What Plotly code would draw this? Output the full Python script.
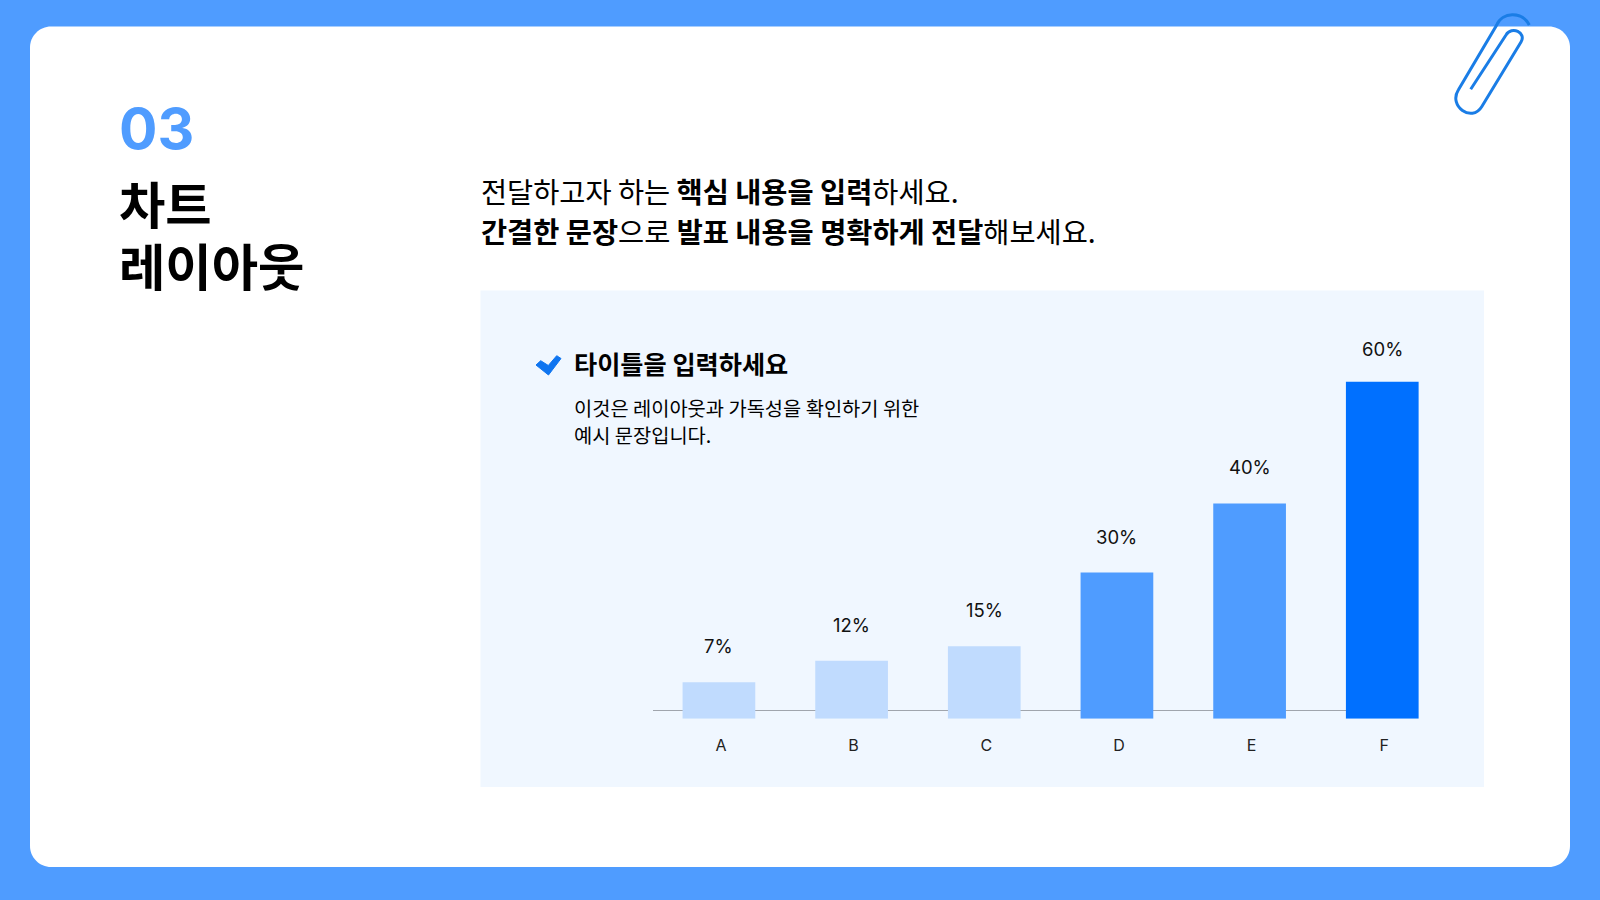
import plotly.graph_objects as go

W, H = 1600, 900
KR = "Noto Sans CJK KR"
LAT = "Inter"

categories = ["A", "B", "C", "D", "E", "F"]
value_labels = ["7%", "12%", "15%", "30%", "40%", "60%"]
# Bar heights as drawn in the picture (they are not strictly proportional to the labels)
drawn_heights = [6.5, 10.3, 12.9, 26.0, 38.3, 60.0]
bar_colors = ["#C0DBFE", "#C0DBFE", "#C0DBFE", "#4F9CFF", "#4F9CFF", "#0070FF"]

section_number = "03"
title_lines = ["차트", "레이아웃"]
body_lines = [
    "전달하고자 하는 <b>핵심 내용을 입력</b>하세요.",
    "<b>간결한 문장</b>으로 <b>발표 내용을 명확하게 전달</b>해보세요.",
]
panel_title = "타이틀을 입력하세요"
panel_lines = ["이것은 레이아웃과 가독성을 확인하기 위한", "예시 문장입니다."]
label_lift = [36, 36, 36, 36, 37, 33]


def px(x):
    return x / W


def py(y):
    return 1 - y / H


def pt(x, y):
    return f"{px(x):.5f},{py(y):.5f}"


def rounded_rect(x0, y0, x1, y1, r):
    k = r * 0.45
    return (
        f"M{pt(x0 + r, y0)} L{pt(x1 - r, y0)} C{pt(x1 - k, y0)} {pt(x1, y0 + k)} {pt(x1, y0 + r)} "
        f"L{pt(x1, y1 - r)} C{pt(x1, y1 - k)} {pt(x1 - k, y1)} {pt(x1 - r, y1)} "
        f"L{pt(x0 + r, y1)} C{pt(x0 + k, y1)} {pt(x0, y1 - k)} {pt(x0, y1 - r)} "
        f"L{pt(x0, y0 + r)} C{pt(x0, y0 + k)} {pt(x0 + k, y0)} {pt(x0 + r, y0)} Z"
    )


clip = (
    f"M{pt(1470.7, 89.3)} L{pt(1506, 35)} C{pt(1511.7, 25.6)} {pt(1526.7, 32.6)} {pt(1521, 42)} "
    f"L{pt(1481.7, 106.7)} C{pt(1471.8, 122.9)} {pt(1448.1, 106.2)} {pt(1458.3, 90)} "
    f"L{pt(1496.7, 25)} C{pt(1502, 12)} {pt(1522, 11)} {pt(1529.3, 25)}"
)
check = (
    f"M{pt(536, 365)} L{pt(540.7, 360.7)} L{pt(548.3, 365.5)} L{pt(556.7, 355.7)} "
    f"L{pt(561, 358.5)} L{pt(548.5, 375)} Z"
)

fig = go.Figure(
    go.Bar(
        x=categories,
        y=drawn_heights,
        marker=dict(color=bar_colors, line=dict(width=0)),
        width=0.548,
        hoverinfo="skip",
    )
)

shapes = [
    dict(type="path", xref="paper", yref="paper", layer="below",
         path=rounded_rect(30, 26.5, 1570, 867, 21), fillcolor="#FFFFFF", line=dict(width=0)),
    dict(type="rect", xref="paper", yref="paper", layer="below",
         x0=px(480.5), x1=px(1484), y0=py(787), y1=py(290.5), fillcolor="#F0F7FF", line=dict(width=0)),
    dict(type="line", xref="paper", yref="paper", layer="below",
         x0=px(653), x1=px(1350), y0=py(710.5), y1=py(710.5), line=dict(color="#A0A5AD", width=1)),
    dict(type="path", xref="paper", yref="paper", layer="above",
         path=clip, line=dict(color="#1A7DE6", width=3), fillcolor="rgba(0,0,0,0)"),
    dict(type="path", xref="paper", yref="paper", layer="above",
         path=check, line=dict(color="#0F75F0", width=1), fillcolor="#0F75F0"),
]

annots = []


def label(x, y, text, size, color="#000000", family=KR):
    annots.append(dict(xref="paper", yref="paper", x=px(x), y=py(y), text=text, showarrow=False,
                       xanchor="left", yanchor="middle", align="left",
                       font=dict(family=family, size=size, color=color), xshift=0, borderpad=0))


label(118, 128, f"<b>{section_number}</b>", 57, "#4F9CFF", LAT)
label(118, 203, f"<b>{title_lines[0]}</b>", 50.4)
label(118, 264, f"<b>{title_lines[1]}</b>", 50.4)
label(479.5, 191, body_lines[0], 28.4)
label(479.5, 231, body_lines[1], 28.4)
label(572.5, 363, f"<b>{panel_title}</b>", 25.2)
label(572.5, 407, panel_lines[0], 19.8)
label(572.5, 434, panel_lines[1], 19.8)

for cat, lab, h, lift in zip(categories, value_labels, drawn_heights, label_lift):
    annots.append(dict(x=cat, y=h, xref="x", yref="y", text=lab, showarrow=False, yshift=lift,
                       xanchor="center", yanchor="middle",
                       font=dict(family=LAT, size=18.5, color="#111111")))

Y_BOTTOM = 718.7
Y_TOP = 381.6
fig.update_layout(
    width=W, height=H, margin=dict(l=0, r=0, t=0, b=0),
    paper_bgcolor="#4F9CFF", plot_bgcolor="rgba(0,0,0,0)",
    showlegend=False, shapes=shapes, annotations=annots,
    xaxis=dict(domain=[px(652.6), px(1448.6)], range=[-0.5, 5.5], type="category",
               showgrid=False, zeroline=False, showline=False,
               ticks="outside", ticklen=12, tickcolor="rgba(0,0,0,0)", ticklabelshift=2,
               tickfont=dict(family=LAT, size=16, color="#222222")),
    yaxis=dict(domain=[py(Y_BOTTOM), py(Y_TOP)], range=[0, 60], visible=False),
)
fig.write_html("out.html", post_script="document.body.style.margin='0';", config={"displayModeBar": False})
